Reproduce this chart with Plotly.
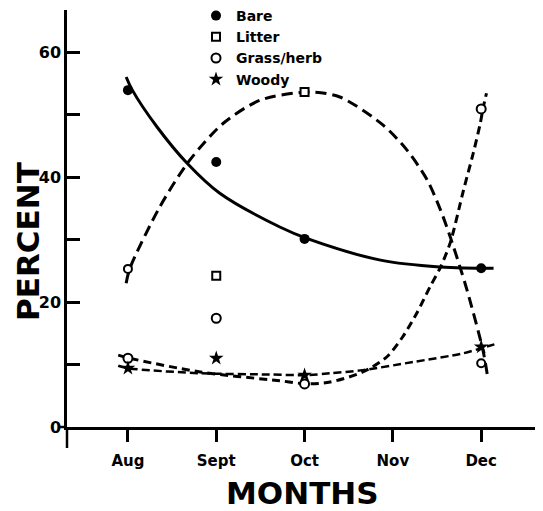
import plotly.graph_objects as go

# ---- data ----
months = ["Aug", "Sept", "Oct", "Nov", "Dec"]
month_pos = [0, 1, 2, 3, 4]
y_ticks = [0, 10, 20, 30, 40, 50, 60]
y_tick_text = ["0", "", "20", "", "40", "", "60"]

# observed points
bare_x = [0, 1, 2, 4]
bare_y = [53.9, 42.4, 30.1, 25.4]
litter_x = [0, 1, 2, 4]
litter_y = [25.3, 24.2, 53.6, 10.2]
litter_symbols = ["circle", "square", "square", "circle"]
grass_x = [0, 1, 2, 4]
grass_y = [11.0, 17.4, 6.9, 50.9]
woody_x = [0, 1, 2, 4]
woody_y = [9.4, 11.0, 8.3, 12.8]

# hand-drawn trend curves
bare_fit_x = [-0.02, 0.05, 0.33, 0.67, 1.04, 1.72, 2.04, 2.86, 3.54, 4.14]
bare_fit_y = [56.0, 53.9, 48.0, 42.2, 37.4, 32.0, 30.1, 26.7, 25.6, 25.4]
litter_fit_x = [-0.02, 0.02, 0.36, 0.70, 1.08, 1.50, 2.06, 2.40, 2.89,
                3.16, 3.39, 3.54, 3.65, 3.76, 3.84, 4.02, 4.07]
litter_fit_y = [23.0, 25.3, 35.2, 42.7, 48.6, 52.3, 53.6, 52.8, 48.3,
                44.3, 39.5, 34.7, 30.4, 25.6, 21.9, 12.3, 8.3]
grass_fit_x = [-0.11, 0.02, 0.82, 1.72, 2.03, 2.29, 2.66, 2.93, 3.11, 3.27,
               3.42, 3.54, 3.65, 3.80, 3.91, 3.99, 4.02, 4.06]
grass_fit_y = [11.5, 11.0, 8.8, 7.4, 6.9, 7.2, 8.8, 11.2, 14.4, 18.2,
               22.4, 25.6, 29.5, 37.9, 43.8, 48.6, 50.9, 53.4]
woody_fit_x = [-0.11, 0.0, 0.82, 1.6, 2.03, 2.29, 2.66, 3.23, 3.80, 4.0, 4.19]
woody_fit_y = [9.8, 9.4, 8.6, 8.4, 8.3, 8.6, 9.1, 10.4, 11.8, 12.6, 13.4]

FONT = "DejaVu Sans"
BLACK = "black"

fig = go.Figure()

# curves
fig.add_trace(go.Scatter(x=bare_fit_x, y=bare_fit_y, mode="lines", showlegend=False,
                         line=dict(color=BLACK, width=3, shape="spline", smoothing=1)))
fig.add_trace(go.Scatter(x=litter_fit_x, y=litter_fit_y, mode="lines", showlegend=False,
                         line=dict(color=BLACK, width=3, dash="11px,6px", shape="spline", smoothing=0.8)))
fig.add_trace(go.Scatter(x=grass_fit_x, y=grass_fit_y, mode="lines", showlegend=False,
                         line=dict(color=BLACK, width=3, dash="8px,5px", shape="spline", smoothing=0.8)))
fig.add_trace(go.Scatter(x=woody_fit_x, y=woody_fit_y, mode="lines", showlegend=False,
                         line=dict(color=BLACK, width=2.5, dash="8px,4px", shape="spline", smoothing=0.8)))

# points
fig.add_trace(go.Scatter(x=bare_x, y=bare_y, mode="markers", showlegend=False,
                         marker=dict(symbol="circle", size=10, color=BLACK)))
fig.add_trace(go.Scatter(x=litter_x, y=litter_y, mode="markers", showlegend=False,
                         marker=dict(symbol=litter_symbols, size=8, color="white",
                                     line=dict(color=BLACK, width=2))))
fig.add_trace(go.Scatter(x=grass_x, y=grass_y, mode="markers", showlegend=False,
                         marker=dict(symbol="circle", size=9, color="white",
                                     line=dict(color=BLACK, width=2))))
fig.add_trace(go.Scatter(x=woody_x, y=woody_y, mode="markers", showlegend=False,
                         marker=dict(symbol="star", size=11, color=BLACK)))

# legend entries
legend_items = [
    ("Bare", dict(symbol="circle", size=10, color=BLACK)),
    ("Litter", dict(symbol="square", size=8, color="white", line=dict(color=BLACK, width=2))),
    ("Grass/herb", dict(symbol="circle", size=9, color="white", line=dict(color=BLACK, width=2))),
    ("Woody", dict(symbol="star", size=11, color=BLACK)),
]
for name, mk in legend_items:
    fig.add_trace(go.Scatter(x=[None], y=[None], mode="markers", name=name, marker=mk))

# page has an 8px body margin; figure is sized to fit inside the window
W, H = 535, 503
L, T, B = 59, 2, 84
pw, ph = W - L, H - T - B

fig.update_layout(
    width=W, height=H,
    margin=dict(l=L, r=0, t=T, b=B, pad=0, autoexpand=False),
    plot_bgcolor="white", paper_bgcolor="white",
    font=dict(family=FONT, color=BLACK, weight="bold"),
    showlegend=True,
    legend=dict(x=(188 - L) / pw, y=1 + 10 / ph, xanchor="left", yanchor="top",
                bgcolor="rgba(0,0,0,0)", borderwidth=0,
                font=dict(family=FONT, size=14, color=BLACK, weight="bold"),
                itemwidth=30, tracegroupgap=0),
    xaxis=dict(range=[-0.69, 4.70], tickvals=month_pos, ticktext=months,
               showline=True, linecolor=BLACK, linewidth=2.5,
               ticks="outside", ticklen=12, tickwidth=2.5, tickcolor=BLACK,
               ticklabelstandoff=6,
               tickfont=dict(family=FONT, size=15, color=BLACK, weight="bold"),
               showgrid=False, zeroline=False, fixedrange=True),
    yaxis=dict(range=[0, 66.72], tickvals=y_ticks, ticktext=y_tick_text,
               showline=True, linecolor=BLACK, linewidth=2.5,
               ticks="inside", ticklen=13, tickwidth=2.5, tickcolor=BLACK,
               tickfont=dict(family=FONT, size=16, color=BLACK, weight="bold"),
               showgrid=False, zeroline=False, fixedrange=True),
    shapes=[
        dict(type="line", xref="paper", yref="paper", x0=0, x1=0, y0=0, y1=-21 / ph,
             line=dict(color=BLACK, width=2.5)),
        dict(type="line", xref="paper", yref="paper", x0=-7 / pw, x1=0, y0=0, y1=0,
             line=dict(color=BLACK, width=2.5)),
    ],
    annotations=[
        dict(text="MONTHS", xref="paper", yref="paper", x=(294 - L) / pw, y=-(485 - (T + ph)) / ph,
             xanchor="center", yanchor="middle", showarrow=False,
             font=dict(family=FONT, size=31, color=BLACK, weight="bold")),
        dict(text="PERCENT", xref="paper", yref="paper", x=(20 - L) / pw, y=(T + ph - 234) / ph,
             xanchor="center", yanchor="middle", showarrow=False, textangle=-90,
             font=dict(family=FONT, size=31, color=BLACK, weight="bold")),
    ],
)

fig.write_html("out.html")
